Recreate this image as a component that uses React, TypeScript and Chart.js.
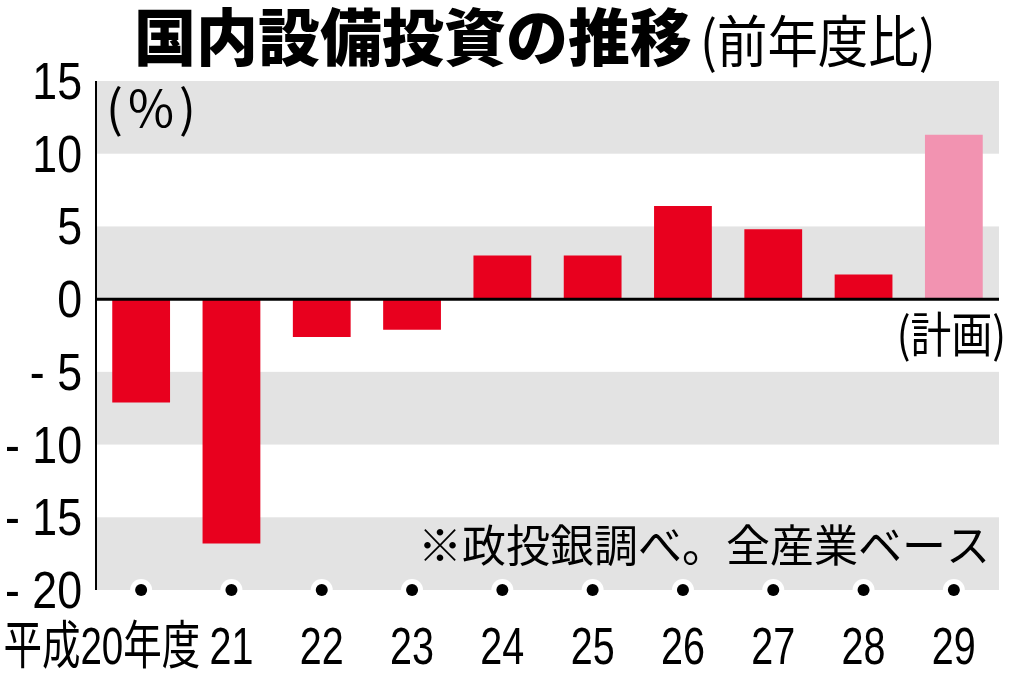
import React, { useEffect, useRef } from "react";
import { Chart, registerables } from "chart.js";

Chart.register(...registerables);

// 平成20〜29年度、前年度比(%)
const categories = ["20", "21", "22", "23", "24", "25", "26", "27", "28", "29"];
const growthRates = [-7.1, -16.8, -2.6, -2.1, 3.0, 3.0, 6.4, 4.8, 1.7, 11.3];
const xTickLabels = ["平成20年度", "21", "22", "23", "24", "25", "26", "27", "28", "29"];
const yTickValues = [15, 10, 5, 0, -5, -10, -15, -20];
const yTickLabels = ["15", "10", "5", "0", "- 5", "- 10", "- 15", "- 20"];
const shadedBands = [
  [10, 15],
  [0, 5],
  [-10, -5],
  [-20, -15],
];
const plannedIndex = 9;

const RED = "#e8001e";
const PINK = "#f293b1";
const BAND = "#e3e3e3";
const SANS = "'Liberation Sans', 'Noto Sans CJK JP', sans-serif";
const CJK = "'Noto Sans CJK JP', sans-serif";

function scaledText(
  ctx: CanvasRenderingContext2D,
  text: string,
  x: number,
  y: number,
  sx: number,
  align: CanvasTextAlign
) {
  ctx.save();
  ctx.translate(x, y);
  ctx.scale(sx, 1);
  ctx.textAlign = align;
  ctx.fillText(text, 0, 0);
  ctx.restore();
}

const decor = {
  id: "decor",
  beforeDatasetsDraw(chart: any) {
    const { ctx, chartArea, scales } = chart;
    const y = scales.y;
    ctx.save();
    ctx.fillStyle = BAND;
    shadedBands.forEach(([lo, hi]) => {
      const top = y.getPixelForValue(hi);
      const bottom = y.getPixelForValue(lo);
      ctx.fillRect(chartArea.left, top, chartArea.right - chartArea.left, bottom - top);
    });
    ctx.restore();
  },
  afterDatasetsDraw(chart: any) {
    const { ctx, chartArea, scales } = chart;
    const x = scales.x;
    const y = scales.y;
    ctx.save();

    // axes
    ctx.strokeStyle = "#000";
    ctx.lineWidth = 2;
    ctx.beginPath();
    ctx.moveTo(chartArea.left, chartArea.top);
    ctx.lineTo(chartArea.left, chartArea.bottom);
    ctx.stroke();
    ctx.lineWidth = 3;
    const zero = y.getPixelForValue(0);
    ctx.beginPath();
    ctx.moveTo(chartArea.left, zero);
    ctx.lineTo(chartArea.right, zero);
    ctx.stroke();

    // dots on the base line
    categories.forEach((_, i) => {
      const cx = x.getPixelForValue(i);
      ctx.fillStyle = "#fff";
      ctx.beginPath();
      ctx.arc(cx, chartArea.bottom, 11, 0, Math.PI * 2);
      ctx.fill();
      ctx.fillStyle = "#000";
      ctx.beginPath();
      ctx.arc(cx, chartArea.bottom, 6, 0, Math.PI * 2);
      ctx.fill();
    });

    ctx.fillStyle = "#000";
    ctx.textBaseline = "alphabetic";

    // y tick labels
    ctx.font = `52px ${SANS}`;
    yTickValues.forEach((v, i) => {
      const py = y.getPixelForValue(v);
      scaledText(ctx, yTickLabels[i], 82, py + 18, 0.86, "right");
    });

    // x tick labels
    xTickLabels.forEach((label, i) => {
      const cx = x.getPixelForValue(i);
      if (i === 0) {
        scaledText(ctx, label, cx + 59, 664, 0.74, "right");
      } else {
        scaledText(ctx, label, cx, 664, 0.76, "center");
      }
    });

    // unit & notes
    ctx.font = `50px ${CJK}`;
    (ctx as any).letterSpacing = "5px";
    scaledText(ctx, "(%)", 106, 127, 1, "left");
    (ctx as any).letterSpacing = "0px";
    ctx.font = `48px ${CJK}`;
    scaledText(ctx, "(計画)", 1006, 352, 0.85, "right");
    ctx.font = `44px ${CJK}`;
    scaledText(ctx, "※政投銀調べ。全産業ベース", 418, 562, 1, "left");

    // title
    ctx.font = `900 62px ${CJK}`;
    ctx.textAlign = "left";
    ctx.fillText("国内設備投資の推移", 134, 61);
    ctx.font = `56px ${CJK}`;
    scaledText(ctx, "(前年度比)", 700, 62, 0.9, "left");

    ctx.restore();
  },
};

export default function App() {
  const chartRef = useRef<HTMLCanvasElement | null>(null);

  useEffect(() => {
    let chartInstance: Chart | null = null;
    document.body.style.margin = "0";

    if (chartRef.current) {
      const context = chartRef.current.getContext("2d");
      if (context) {
        chartInstance = new Chart(context, {
          type: "bar",
          data: {
            labels: categories,
            datasets: [
              {
                data: growthRates,
                backgroundColor: growthRates.map((_, i) => (i === plannedIndex ? PINK : RED)),
                borderWidth: 0,
                barPercentage: 0.64,
                categoryPercentage: 1,
              },
            ],
          },
          options: {
            animation: false,
            responsive: true,
            maintainAspectRatio: false,
            layout: { padding: { left: 96, right: 25, top: 81, bottom: 85 } },
            plugins: {
              legend: { display: false },
              tooltip: { enabled: false },
              title: { display: false },
            },
            scales: {
              x: {
                grid: { display: false },
                border: { display: false },
                ticks: { display: false },
                afterFit: (scale: any) => {
                  scale.height = 0;
                },
              },
              y: {
                min: -20,
                max: 15,
                grid: { display: false },
                border: { display: false },
                ticks: { display: false, stepSize: 5 },
                afterFit: (scale: any) => {
                  scale.width = 0;
                },
              },
            },
          },
          plugins: [decor],
        });
      }
    }
    return () => {
      if (chartInstance) {
        chartInstance.destroy();
      }
    };
  }, []);

  return (
    <div style={{ position: "fixed", left: 0, top: 0, width: 1024, height: 675, background: "#fff" }}>
      <canvas ref={chartRef} />
    </div>
  );
}
